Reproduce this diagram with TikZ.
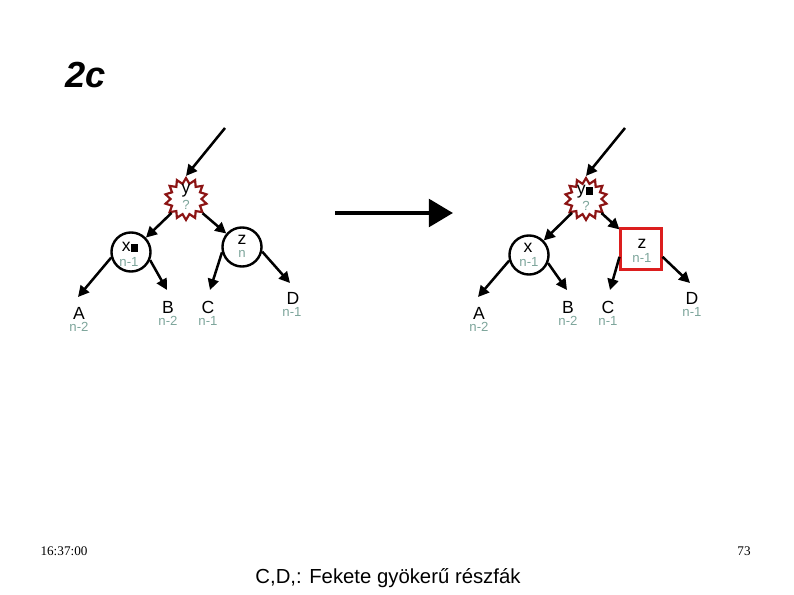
\documentclass[tikz,border=0pt]{standalone}
\usepackage{fontspec}
\setmainfont{Liberation Sans}
\newfontfamily\timesfont{Liberation Serif}
\usetikzlibrary{shapes.geometric,arrows.meta,positioning,calc}
\definecolor{burstred}{RGB}{140,20,20}
\definecolor{boxred}{RGB}{220,30,30}
\definecolor{nlab}{RGB}{125,165,155}

\begin{document}
\begin{tikzpicture}[
  x=0.032cm, y=-0.032cm,
  every node/.append style={inner sep=0pt},
  burst/.style={star, star points=14, star point ratio=1.35, draw=burstred, line width=2pt, fill=white, minimum size=1.34cm},
  rb/.style={circle, draw, line width=2.2pt, minimum size=1.25cm},
  box/.style={rectangle, draw=boxred, line width=2.2pt, minimum size=1.3cm},
  arr/.style={-{Triangle[length=10pt,width=10pt]}, line width=2.3pt},
  key/.style={font=\fontsize{16}{16}\selectfont},
  ht/.style={font=\fontsize{12}{12}\selectfont, text=nlab}
]
\useasboundingbox (0,0) rectangle (794,595);
\node[font=\fontsize{33}{36}\selectfont\bfseries\itshape] (title) at (86,75) {2c};

% left tree
\node[burst] (y1) at (186,199) {};
\node[key] (y1k) at (186,191) {y};
\node[ht] (y1h) at (186,205) {?};
\node[rb] (x1) at (131,252) {};
\node[key] (x1k) at (130,247) {x\rule{7pt}{7pt}};
\node[ht] (x1h) at (129,262) {n-1};
\node[rb] (z1) at (242,247) {};
\node[key] (z1k) at (242,240) {z};
\node[ht] (z1h) at (242,254) {n};
\coordinate (in1) at (225,128);
\coordinate (a1) at (78,297);
\coordinate (b1) at (167,290);
\coordinate (c1) at (210,290);
\coordinate (d1) at (290,283);
\draw[arr] (in1) -- (y1.north);
\draw[arr] (y1) -- (x1);
\draw[arr] (y1) -- (z1);
\draw[arr] (x1.196) -- (a1);
\draw[arr] (x1.337) -- (b1);
\draw[arr] (z1.195) -- (c1);
\draw[arr] (z1.347) -- (d1);
\node[key] (A1) at (79,313) {A};
\node[ht]  (A1h) at (79,327) {n-2};
\node[key] (B1) at (168,307) {B};
\node[ht]  (B1h) at (168,321) {n-2};
\node[key] (C1) at (208,307) {C};
\node[ht]  (C1h) at (208,321) {n-1};
\node[key] (D1) at (293,298) {D};
\node[ht]  (D1h) at (292,312) {n-1};

% transformation
\coordinate (bs) at (335,213);
\coordinate (be) at (453,213);
\draw[-{Triangle[length=22pt,width=25pt]}, line width=4pt] (bs) -- (be);

% right tree
\node[burst] (y2) at (586,199) {};
\node[key] (y2k) at (585,192) {y\rule{7pt}{7pt}};
\node[ht] (y2h) at (586,206) {?};
\node[rb] (x2) at (529,255) {};
\node[key] (x2k) at (528,248) {x};
\node[ht] (x2h) at (529,262) {n-1};
\node[box] (z2) at (641,249) {};
\node[key] (z2k) at (642,244) {z};
\node[ht] (z2h) at (642,258) {n-1};
\coordinate (in2) at (625,128);
\coordinate (a2) at (478,297);
\coordinate (b2) at (567,290);
\coordinate (c2) at (610,290);
\coordinate (d2) at (690,283);
\draw[arr] (in2) -- (y2.north);
\draw[arr] (y2) -- (x2);
\draw[arr] (y2) -- (z2);
\draw[arr] (x2.196) -- (a2);
\draw[arr] (x2.337) -- (b2);
\draw[arr] (z2.200) -- (c2);
\draw[arr] (z2.340) -- (d2);
\node[key] (A2) at (479,313) {A};
\node[ht]  (A2h) at (479,327) {n-2};
\node[key] (B2) at (568,307) {B};
\node[ht]  (B2h) at (568,321) {n-2};
\node[key] (C2) at (608,307) {C};
\node[ht]  (C2h) at (608,321) {n-1};
\node[key] (D2) at (692,298) {D};
\node[ht]  (D2h) at (692,312) {n-1};

% footer
\node[font=\timesfont\fontsize{12}{12}\selectfont] (time) at (64,551) {16:37:00};
\node[font=\timesfont\fontsize{12}{12}\selectfont] (page) at (744,551) {73};
\node[font=\fontsize{18.5}{18.5}\selectfont] (note) at (388,578) {C,D,: Fekete gyökerű részfák};
\end{tikzpicture}
\end{document}
